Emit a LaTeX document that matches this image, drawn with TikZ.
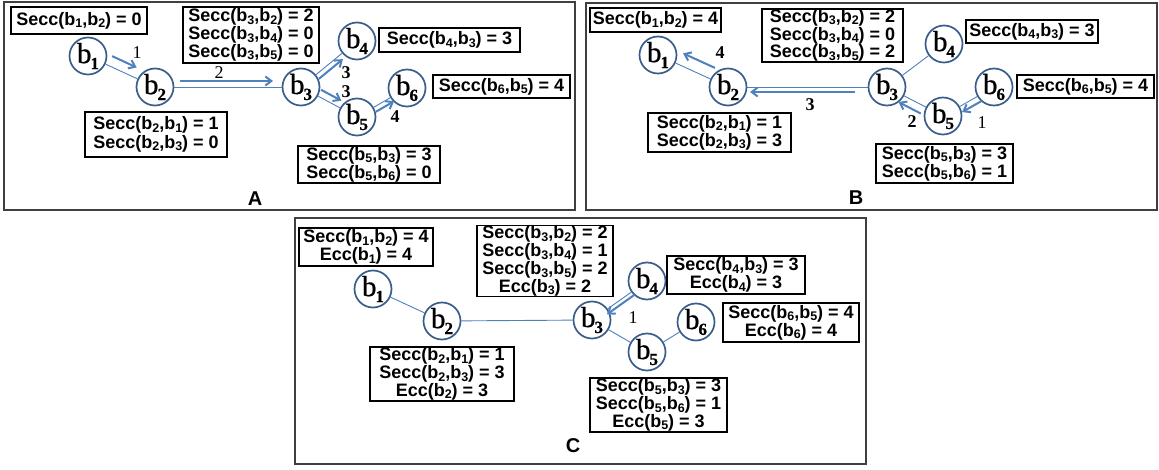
\documentclass[tikz,border=0pt]{standalone}
\usepackage{fontspec}
\newfontfamily\lab{Liberation Sans}
\newfontfamily\vtxfont{Liberation Serif}[FakeBold=0.7]
\newfontfamily\numfont{Liberation Serif}
\usetikzlibrary{calc,arrows.meta}
\definecolor{ring}{HTML}{385D8A}
\definecolor{edge}{HTML}{4F81BD}
\definecolor{frame}{HTML}{404040}
% vertex label b_i
\newcommand\bv[1]{b\kern-1pt\raisebox{-6pt}{\fontsize{17}{17}\selectfont\bfseries #1}}
% index inside an info box
\newcommand\ix[1]{\raisebox{-2.5pt}{\fontsize{12.5}{12.5}\selectfont #1}}
\tikzset{
  vtx/.style={circle, draw=ring, fill=white, line width=1.7pt, minimum size=37pt, inner sep=0pt,
    font=\vtxfont\fontsize{29}{29}\selectfont},
  lnk/.style={draw=edge, line width=0.9pt},
  arw/.style={draw=edge, line width=2pt, -{Straight Barb[length=6pt,width=9pt]}},
  info/.style={draw=black, fill=white, line width=1.1pt, align=center, inner sep=0pt,
    font=\lab\bfseries\fontsize{18}{16.5}\selectfont},
  frm/.style={draw=frame, line width=1.3pt},
  elab/.style={font=\numfont\fontsize{18}{18}\selectfont},
  elabb/.style={font=\numfont\fontsize{18}{18}\selectfont\bfseries},
  panel/.style={font=\lab\bfseries\fontsize{20}{20}\selectfont}
}
\begin{document}
\begin{tikzpicture}[x=1pt,y=-1pt]
\useasboundingbox (0,0) rectangle (1159,470);
\fill[white] (0,0) rectangle (1159,470);

% ---------- panel frames
\draw[frm] (4,2) rectangle (575,210);
\draw[frm] (586,3) rectangle (1157,210);
\draw[frm] (295,218) rectangle (866,464);

% ================= panel A
\node[vtx] (a1) at (88,56) {\bv{1}};
\node[vtx] (a2) at (155,87) {\bv{2}};
\node[vtx] (a3) at (301,87) {\bv{3}};
\node[vtx] (a4) at (357,41) {\bv{4}};
\node[vtx] (a5) at (357,117) {\bv{5}};
\node[vtx] (a6) at (407,88) {\bv{6}};
\draw[lnk] (a1) -- (a2);
\draw[lnk] (a2) -- (a3);
\draw[lnk] (a3) -- (a4);
\draw[lnk] (a3) -- (a5);
\draw[lnk] (a5) -- (a6);
\draw[arw] ($(a1)!22pt!(a2)+(4.2,-9.1)$) -- ($(a1)!49pt!(a2)+(4.2,-9.1)$);
\draw[arw] ($(a2)!25pt!(a3)+(0,-6)$) -- ($(a2)!118pt!(a3)+(0,-6)$);
\draw[arw] ($(a3)!19pt!(a4)+(3.2,3.9)$) -- ($(a3)!50pt!(a4)+(3.2,3.9)$);
\draw[arw] ($(a3)!19pt!(a5)+(3.3,-6.2)$) -- ($(a3)!42pt!(a5)+(3.3,-6.2)$);
\draw[arw] ($(a5)!19pt!(a6)+(2.5,4.3)$) -- ($(a5)!40pt!(a6)+(2.5,4.3)$);
\node[elab] (la1) at (137,53) {1};
\node[elab] (la2) at (219,73) {2};
\node[elabb] (la3) at (346,73) {3};
\node[elabb] (la4) at (346,92) {3};
\node[elabb] (la5) at (395,117) {4};
\node[info, minimum width=136pt, minimum height=27pt] (ia1) at (79,20.5) {Secc(b\ix{1},b\ix{2}) = 0};
\node[info, minimum width=136pt, minimum height=56pt] (ia3) at (251,35) {Secc(b\ix{3},b\ix{2}) = 2\\Secc(b\ix{3},b\ix{4}) = 0\\Secc(b\ix{3},b\ix{5}) = 0};
\node[info, minimum width=142pt, minimum height=45pt, font=\lab\bfseries\fontsize{18}{18.5}\selectfont] (ia2) at (156,134.5) {Secc(b\ix{2},b\ix{1}) = 1\\Secc(b\ix{2},b\ix{3}) = 0};
\node[info, minimum width=141pt, minimum height=24pt] (ia4) at (449.5,40) {Secc(b\ix{4},b\ix{3}) = 3};
\node[info, minimum width=137pt, minimum height=23pt] (ia6) at (501.5,86.5) {Secc(b\ix{6},b\ix{5}) = 4};
\node[info, minimum width=142pt, minimum height=37pt] (ia5) at (369,164.5) {Secc(b\ix{5},b\ix{3}) = 3\\Secc(b\ix{5},b\ix{6}) = 0};
\node[panel] (pa) at (255,199) {A};

% ================= panel B
\node[vtx] (b1) at (658,55) {\bv{1}};
\node[vtx] (b2) at (728,87) {\bv{2}};
\node[vtx] (b3) at (887,87) {\bv{3}};
\node[vtx] (b4) at (944,44) {\bv{4}};
\node[vtx] (b5) at (943,116) {\bv{5}};
\node[vtx] (b6) at (994,87) {\bv{6}};
\draw[lnk] (b1) -- (b2);
\draw[lnk] (b2) -- (b3);
\draw[lnk] (b3) -- (b4);
\draw[lnk] (b3) -- (b5);
\draw[lnk] (b5) -- (b6);
\draw[arw] ($(b2)!20pt!(b1)+(5.1,-10.8)$) -- ($(b2)!55pt!(b1)+(5.1,-10.8)$);
\draw[arw] ($(b3)!32pt!(b2)+(0,5)$) -- ($(b3)!137pt!(b2)+(0,5)$);
\draw[arw] ($(b5)!21pt!(b3)+(-3.6,7.2)$) -- ($(b5)!46pt!(b3)+(-3.6,7.2)$);
\draw[arw] ($(b6)!18pt!(b5)+(2.9,5.3)$) -- ($(b6)!40pt!(b5)+(2.9,5.3)$);
\node[elabb] (lb1) at (720,53) {4};
\node[elabb] (lb2) at (810,105) {3};
\node[elabb] (lb3) at (912,122) {2};
\node[elab] (lb4) at (982,123) {1};
\node[info, minimum width=131pt, minimum height=24pt] (ib1) at (655.5,20) {Secc(b\ix{1},b\ix{2}) = 4};
\node[info, minimum width=141pt, minimum height=53pt] (ib3) at (832.5,35.5) {Secc(b\ix{3},b\ix{2}) = 2\\Secc(b\ix{3},b\ix{4}) = 0\\Secc(b\ix{3},b\ix{5}) = 2};
\node[info, minimum width=143pt, minimum height=39pt] (ib2) at (719.5,132.5) {Secc(b\ix{2},b\ix{1}) = 1\\Secc(b\ix{2},b\ix{3}) = 3};
\node[info, minimum width=132pt, minimum height=23pt] (ib4) at (1032,31.5) {Secc(b\ix{4},b\ix{3}) = 3};
\node[info, minimum width=137pt, minimum height=23pt] (ib6) at (1085.5,86.5) {Secc(b\ix{6},b\ix{5}) = 4};
\node[info, minimum width=137pt, minimum height=39pt] (ib5) at (944.5,163.5) {Secc(b\ix{5},b\ix{3}) = 3\\Secc(b\ix{5},b\ix{6}) = 1};
\node[panel] (pb) at (856,198) {B};

% ================= panel C
\node[vtx] (c1) at (373,289) {\bv{1}};
\node[vtx] (c2) at (442,321) {\bv{2}};
\node[vtx] (c3) at (592,320) {\bv{3}};
\node[vtx] (c4) at (647,281) {\bv{4}};
\node[vtx] (c5) at (647,352) {\bv{5}};
\node[vtx] (c6) at (696,322) {\bv{6}};
\draw[lnk] (c1) -- (c2);
\draw[lnk] (c2) -- (c3);
\draw[lnk] (c3) -- (c4);
\draw[lnk] (c3) -- (c5);
\draw[lnk] (c5) -- (c6);
\draw[arw] ($(c4)!18pt!(c3)+(2.3,3.3)$) -- ($(c4)!52pt!(c3)+(2.3,3.3)$);
\node[elab] (lc1) at (633,318) {1};
\node[info, minimum width=134pt, minimum height=38pt] (ic1) at (366,247) {Secc(b\ix{1},b\ix{2}) = 4\\Ecc(b\ix{1}) = 4};
\node[info, minimum width=136pt, minimum height=70pt] (ic3) at (545,261) {Secc(b\ix{3},b\ix{2}) = 2\\Secc(b\ix{3},b\ix{4}) = 1\\Secc(b\ix{3},b\ix{5}) = 2\\Ecc(b\ix{3}) = 2};
\node[info, minimum width=144pt, minimum height=54pt] (ic2) at (442,374) {Secc(b\ix{2},b\ix{1}) = 1\\Secc(b\ix{2},b\ix{3}) = 3\\Ecc(b\ix{2}) = 3};
\node[info, minimum width=138pt, minimum height=38pt] (ic4) at (736,275) {Secc(b\ix{4},b\ix{3}) = 3\\Ecc(b\ix{4}) = 3};
\node[info, minimum width=136pt, minimum height=39pt] (ic6) at (791,322.5) {Secc(b\ix{6},b\ix{5}) = 4\\Ecc(b\ix{6}) = 4};
\node[info, minimum width=137pt, minimum height=54pt] (ic5) at (658.5,405) {Secc(b\ix{5},b\ix{3}) = 3\\Secc(b\ix{5},b\ix{6}) = 1\\Ecc(b\ix{5}) = 3};
\node[panel] (pc) at (573,446) {C};
\end{tikzpicture}
\end{document}
